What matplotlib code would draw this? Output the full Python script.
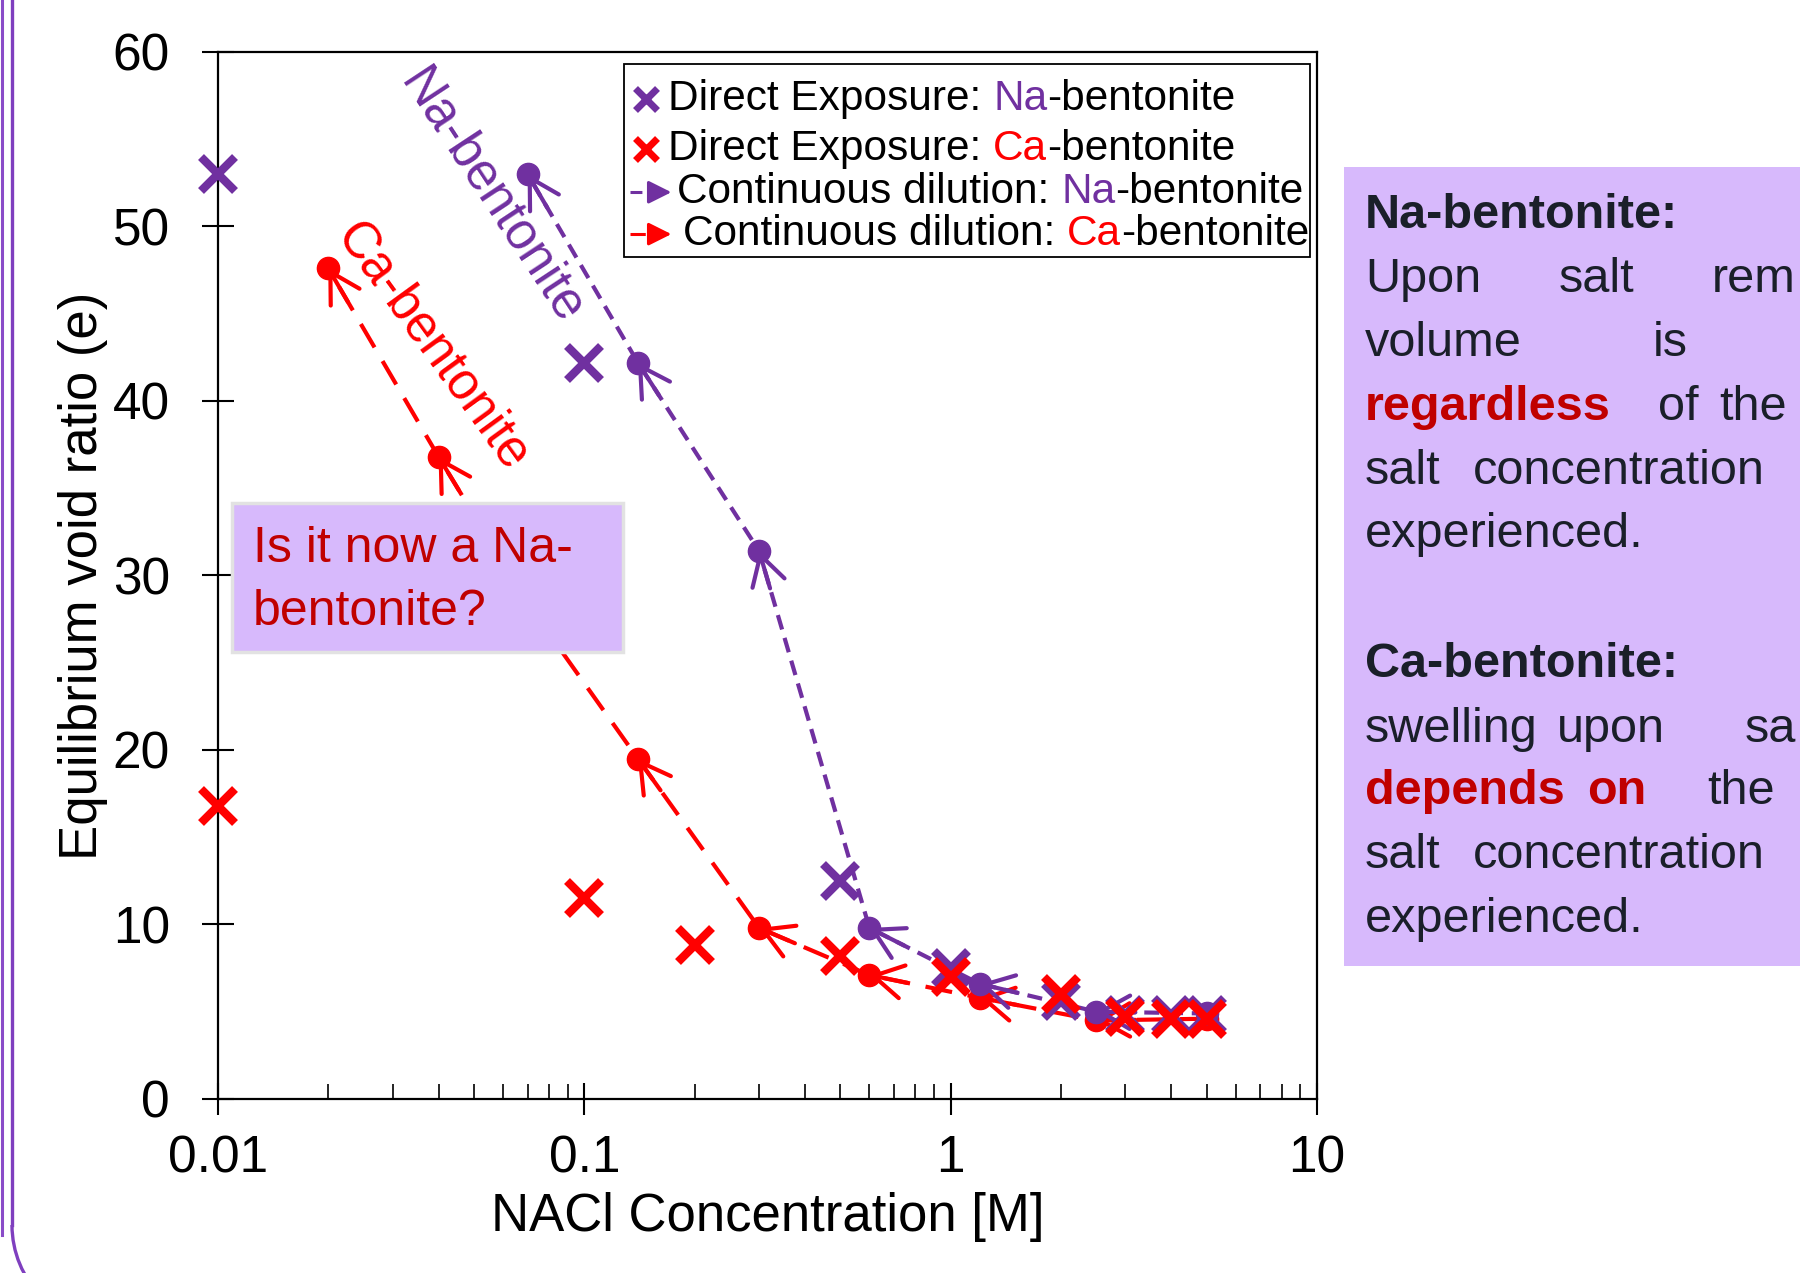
# Void ratio vs NaCl concentration: direct exposure vs continuous dilution
import matplotlib
matplotlib.use("Agg")
import matplotlib.pyplot as plt
import numpy as np
from matplotlib.lines import Line2D
from matplotlib.patches import Rectangle, Arc
from matplotlib.transforms import IdentityTransform

# direct exposure
na_de_x = [0.01, 0.1, 0.5, 1, 2, 3, 4, 5]
na_de_y = [53.0, 42.2, 12.5, 7.5, 5.6, 4.8, 4.8, 4.8]
ca_de_x = [0.01, 0.1, 0.2, 0.5, 1, 2, 3, 4, 5]
ca_de_y = [16.8, 11.5, 8.8, 8.2, 7.0, 6.0, 4.7, 4.6, 4.6]

# continuous dilution, in test order (high -> low salt)
na_cd_x = [5, 2.5, 1.2, 0.6, 0.3, 0.14, 0.07]
na_cd_y = [4.9, 5.0, 6.6, 9.8, 31.4, 42.2, 53.0]
ca_cd_x = [5, 2.5, 1.2, 0.6, 0.3, 0.14, 0.07, 0.04, 0.02]
ca_cd_y = [4.6, 4.5, 5.8, 7.1, 9.8, 19.5, 28.4, 36.8, 47.6]

x_ticks = [0.01, 0.1, 1, 10]
x_ticklabels = ["0.01", "0.1", "1", "10"]
y_ticks = [0, 10, 20, 30, 40, 50, 60]

PURPLE = "#7030a0"
RED = "#ff0000"
BOXFILL = "#d7b9fc"
DARKRED = "#c00000"
INK = "#1a1f29"

plt.rcParams['font.family'] = ['Liberation Sans', 'DejaVu Sans']

fig = plt.figure(figsize=(18, 12.73), dpi=100)
ax = fig.add_axes([0.1211, 0.1367, 0.6106, 0.8225])
ax.set_xscale("log")
ax.set_xlim(0.01, 10)
ax.set_ylim(0, 60)


def dilution(x, y, color, ls, lw, z):
    ax.plot(x, y, color=color, ls=ls, lw=lw, marker='o', ms=16, zorder=z)
    # open arrow head at the end of every step
    for i in range(len(x) - 1):
        p0 = ax.transData.transform((x[i], y[i]))
        p1 = ax.transData.transform((x[i + 1], y[i + 1]))
        u = (p1 - p0) / np.hypot(*(p1 - p0))
        ax.annotate('', xy=(x[i + 1], y[i + 1]), xytext=(-u[0] * 28, -u[1] * 28),
                    textcoords='offset points',
                    arrowprops=dict(arrowstyle='->,head_length=1.05,head_width=0.6',
                                    color=color, lw=lw, shrinkA=0, shrinkB=0,
                                    mutation_scale=20),
                    zorder=z)


dilution(ca_cd_x, ca_cd_y, RED, (0, (6.5, 3.8)), 3.0, 2)
dilution(na_cd_x, na_cd_y, PURPLE, (0, (3.6, 2.1)), 3.0, 3)
ax.plot(na_de_x, na_de_y, ls='none', marker='x', ms=24, mew=6, color=PURPLE,
        zorder=4, clip_on=False)
ax.plot(ca_de_x, ca_de_y, ls='none', marker='x', ms=24, mew=6, color=RED,
        zorder=5, clip_on=False)

ax.set_xticks(x_ticks)
ax.set_xticklabels(x_ticklabels)
ax.set_yticks(y_ticks)
ax.tick_params(which='major', direction='inout', length=23, width=1.5, labelsize=37)
ax.tick_params(axis='x', which='major', pad=14)
ax.tick_params(axis='y', which='major', pad=23)
ax.tick_params(axis='x', which='minor', direction='in', length=11, width=1.2)
ax.tick_params(top=False, right=False, which='both')
for s in ax.spines.values():
    s.set_linewidth(1.6)

ax.set_xlabel("NACl Concentration [M]", fontsize=38, va='top')
ax.xaxis.set_label_coords(0.5, -0.089)
ax.set_ylabel("Equilibrium void ratio (e)", fontsize=38)
ax.yaxis.set_label_coords(-0.100, 0.5)

# rotated curve labels
ax.text(0.2484, 0.8615, "Na-bentonite", color=PURPLE, fontsize=37, rotation=-56.6,
        rotation_mode='anchor', ha='center', va='center', transform=ax.transAxes)
ax.text(0.1947, 0.7182, "Ca-bentonite", color=RED, fontsize=37, rotation=-54,
        rotation_mode='anchor', ha='center', va='center', transform=ax.transAxes)

# question box
ax.add_patch(Rectangle((0.0127, 0.427), 0.3558, 0.142, transform=ax.transAxes,
                       facecolor=BOXFILL, edgecolor="#e2e2e2", lw=2.5, zorder=8))
ax.text(0.0319, 0.525, "Is it now a Na-", color=DARKRED, fontsize=36,
        va='center', ha='left', transform=ax.transAxes, zorder=9)
ax.text(0.0319, 0.465, "bentonite?", color=DARKRED, fontsize=36,
        va='center', ha='left', transform=ax.transAxes, zorder=9)

# legend (built by hand for the two-colour labels)
LFS = 30.5
ax.add_patch(Rectangle((0.3694, 0.804), 0.6242, 0.1845, transform=ax.transAxes,
                       facecolor='white', edgecolor='black', lw=1.3, zorder=10))


def label_row(x, y, first, word, color):
    t = ax.text(x, y, first, fontsize=LFS, va='center', ha='left',
                transform=ax.transAxes, zorder=11)
    t = ax.annotate(word, xy=(1, 0), xycoords=t, xytext=(LFS * 0.278, 0),
                    textcoords='offset points', va='bottom', ha='left',
                    fontsize=LFS, color=color, zorder=11)
    ax.annotate("-bentonite", xy=(1, 0), xycoords=t, va='bottom', ha='left',
                fontsize=LFS, zorder=11)


rows_y = [0.955, 0.907, 0.866, 0.826]
ax.add_line(Line2D([0.3894], [rows_y[0]], transform=ax.transAxes, marker='x', ms=16,
                   mew=5, color=PURPLE, zorder=11))
ax.add_line(Line2D([0.3894], [rows_y[1]], transform=ax.transAxes, marker='x', ms=16,
                   mew=5, color=RED, zorder=11))
for y, c, ls in [(rows_y[2], PURPLE, (0, (3.9, 2.1))), (rows_y[3], RED, (0, (5, 3)))]:
    ax.add_line(Line2D([0.3745, 0.395], [y, y], transform=ax.transAxes, color=c,
                       lw=2.2, ls=ls, zorder=11))
    ax.annotate('', xy=(0.4125, y), xytext=(0.395, y), xycoords='axes fraction',
                arrowprops=dict(arrowstyle='-|>,head_length=0.7,head_width=0.35',
                                color=c, lw=2.2, shrinkA=0, shrinkB=0, mutation_scale=20),
                zorder=11)
label_row(0.4095, rows_y[0], "Direct Exposure:", "Na", PURPLE)
label_row(0.4095, rows_y[1], "Direct Exposure:", "Ca", RED)
label_row(0.4177, rows_y[2], "Continuous dilution:", "Na", PURPLE)
label_row(0.4230, rows_y[3], "Continuous dilution:", "Ca", RED)

# side note box (runs off the right edge like the slide)
fig.add_artist(Rectangle((1344 / 1800, 1 - 966 / 1273), 0.3, (966 - 167) / 1273,
                         transform=fig.transFigure, facecolor=BOXFILL, edgecolor='none'))
note_lines = [
    (215, [(1365, "Na-bentonite:", INK, 'bold')]),
    (279, [(1365, "Upon", INK, 'normal'), (1559, "salt", INK, 'normal'),
           (1712, "rem", INK, 'normal')]),
    (343, [(1365, "volume", INK, 'normal'), (1653, "is", INK, 'normal')]),
    (408, [(1365, "regardless", DARKRED, 'bold'), (1658, "of", INK, 'normal'),
           (1719, "the", INK, 'normal')]),
    (472, [(1365, "salt", INK, 'normal'), (1473, "concentration", INK, 'normal')]),
    (535, [(1365, "experienced.", INK, 'normal')]),
    (665, [(1365, "Ca-bentonite:", INK, 'bold')]),
    (729, [(1365, "swelling", INK, 'normal'), (1557, "upon", INK, 'normal'),
           (1745, "sa", INK, 'normal')]),
    (792, [(1365, "depends", DARKRED, 'bold'), (1587, "on", DARKRED, 'bold'),
           (1707, "the", INK, 'normal')]),
    (856, [(1365, "salt", INK, 'normal'), (1473, "concentration", INK, 'normal')]),
    (920, [(1365, "experienced.", INK, 'normal')]),
]
for py, words in note_lines:
    for px, w, c, fw in words:
        fig.text(px / 1800, 1 - py / 1273, w, color=c, fontweight=fw, fontsize=35,
                 va='center', ha='left')

# slide frame on the left
fig.add_artist(Line2D([1.5, 1.5], [38, 1273], transform=IdentityTransform(),
                      color="#8a4cc8", lw=2.2))
fig.add_artist(Line2D([12, 12], [48, 1273], transform=IdentityTransform(),
                      color="#7f3fbf", lw=2.4))
fig.add_artist(Arc((114, 48), 204, 204, theta1=180, theta2=270,
                   transform=IdentityTransform(), color="#7f3fbf", lw=2.4))

fig.savefig("out.png", dpi=100)
